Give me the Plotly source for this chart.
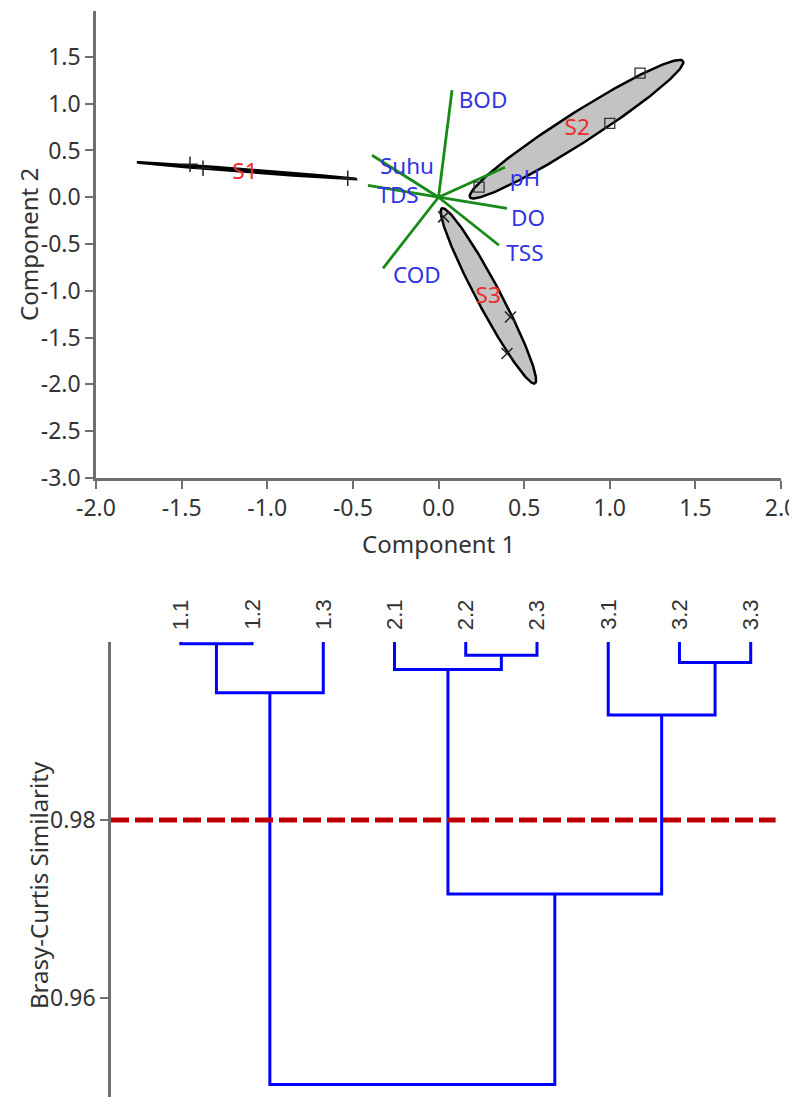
import numpy as np
import plotly.graph_objects as go

# ---------------- PCA biplot data ----------------
group_names = ["S1", "S2", "S3"]
s1_x = [-1.451, -1.375, -0.53]
s1_y = [0.353, 0.31, 0.203]
s2_x = [1.177, 1.0, 0.237]
s2_y = [1.326, 0.79, 0.107]
s3_x = [0.03, 0.42, 0.40]
s3_y = [-0.21, -1.28, -1.67]

# ellipses: both ends of the long axis + minor/major ratio
ell_tip1_x = [-1.761, 0.184, 0.02]
ell_tip1_y = [0.374, 0.0, -0.118]
ell_tip2_x = [-0.476, 1.428, 0.563]
ell_tip2_y = [0.193, 1.455, -1.99]
ell_ratio = [0.012, 0.12, 0.12]

group_label_x = [-1.13, 0.81, 0.29]
group_label_y = [0.257, 0.72, -1.07]

var_names = ["BOD", "Suhu", "TDS", "pH", "DO", "TSS", "COD"]
load_x = [0.079, -0.388, -0.412, 0.388, 0.40, 0.353, -0.324]
load_y = [1.144, 0.449, 0.128, 0.321, -0.118, -0.513, -0.759]
var_label_x = [0.26, -0.184, -0.236, 0.505, 0.523, 0.505, -0.126]
var_label_y = [1.016, 0.31, 0.0, 0.18, -0.246, -0.62, -0.856]

x1_ticks = [-2.0, -1.5, -1.0, -0.5, 0.0, 0.5, 1.0, 1.5, 2.0]
x1_ticktext = ["-2.0", "-1.5", "-1.0", "-0.5", "0.0", "0.5", "1.0", "1.5", "2.0"]
y1_ticks = [-3.0, -2.5, -2.0, -1.5, -1.0, -0.5, 0.0, 0.5, 1.0, 1.5]
y1_ticktext = ["-3.0", "-2.5", "-2.0", "-1.5", "-1.0", "-0.5", "0.0", "0.5", "1.0", "1.5"]

# ---------------- Dendrogram data ----------------
leaf_labels = ["1.1", "1.2", "1.3", "2.1", "2.2", "2.3", "3.1", "3.2", "3.3"]
merge_a = [0, 4, 7, 3, 9, 6, 12, 13]
merge_b = [1, 5, 8, 10, 2, 11, 14, 15]
merge_sim = [0.9998, 0.9985, 0.9977, 0.9969, 0.9943, 0.9918, 0.9717, 0.9503]
cut_level = 0.98
y2_ticks = [0.96, 0.98]
y2_ticktext = ["0.96", "0.98"]

# ---------------- layout geometry ----------------
W, H = 797, 1097
OFF = 8  # page body margin
FONT = "Noto Sans"
x1_range = [-2.0, 2.0]
y1_range = [-3.0, 1.99]
x1_dom_px = [96, 781]
y1_dom_px = [11, 478]
x2_range = [0.02, 9.65]
y2_range = [0.9489, 1.0]
x2_dom_px = [111, 797]
y2_dom_px = [642, 1097]


def fx(px):
    return (px - OFF) / W


def fy(py):
    return 1 - (py - OFF) / H


sx = (x1_dom_px[1] - x1_dom_px[0]) / (x1_range[1] - x1_range[0])
sy = (y1_dom_px[1] - y1_dom_px[0]) / (y1_range[1] - y1_range[0])


def ellipse(xa, ya, xb, yb, ratio, n=200):
    p1 = np.array([xa * sx, ya * sy])
    p2 = np.array([xb * sx, yb * sy])
    c = (p1 + p2) / 2
    u = (p2 - p1) / 2
    v = np.array([-u[1], u[0]]) * ratio
    t = np.linspace(0, 2 * np.pi, n)
    pts = c[:, None] + np.outer(u, np.cos(t)) + np.outer(v, np.sin(t))
    return pts[0] / sx, pts[1] / sy


fig = go.Figure()

# ellipses
for i in range(3):
    ex, ey = ellipse(ell_tip1_x[i], ell_tip1_y[i], ell_tip2_x[i], ell_tip2_y[i], ell_ratio[i])
    fig.add_trace(go.Scatter(x=ex, y=ey, mode="lines", fill="toself",
                             fillcolor="#c3c3c3", line=dict(color="black", width=2.5),
                             hoverinfo="skip", xaxis="x", yaxis="y"))

# loading vectors
vx, vy = [], []
for lx, ly in zip(load_x, load_y):
    vx += [0, lx, None]
    vy += [0, ly, None]
fig.add_trace(go.Scatter(x=vx, y=vy, mode="lines", line=dict(color="#178a17", width=2.8),
                         xaxis="x", yaxis="y"))

# points
fig.add_trace(go.Scatter(x=s1_x, y=s1_y, mode="markers",
                         marker=dict(symbol="cross-thin", size=11, line=dict(color="#222", width=1.5)),
                         xaxis="x", yaxis="y"))
fig.add_trace(go.Scatter(x=s2_x, y=s2_y, mode="markers",
                         marker=dict(symbol="square-open", size=10, color="#333", line=dict(color="#333", width=1.3)),
                         xaxis="x", yaxis="y"))
fig.add_trace(go.Scatter(x=s3_x, y=s3_y, mode="markers",
                         marker=dict(symbol="x-thin", size=11, line=dict(color="#222", width=1.5)),
                         xaxis="x", yaxis="y"))

# labels
fig.add_trace(go.Scatter(x=var_label_x, y=var_label_y, mode="text", text=var_names,
                         textposition="middle center",
                         textfont=dict(family=FONT, size=22.5, color="#3232e6"),
                         xaxis="x", yaxis="y"))
fig.add_trace(go.Scatter(x=group_label_x, y=group_label_y, mode="text", text=group_names,
                         textposition="middle center",
                         textfont=dict(family=FONT, size=22.5, color="#ee2a2a"),
                         xaxis="x", yaxis="y"))

# ---------------- dendrogram ----------------
pos = [float(i + 1) for i in range(len(leaf_labels))]
hgt = [1.0] * len(leaf_labels)
dx, dy = [], []
for a, b, s in zip(merge_a, merge_b, merge_sim):
    dx += [pos[a], pos[a], pos[b], pos[b], None]
    dy += [hgt[a], s, s, hgt[b], None]
    pos.append((pos[a] + pos[b]) / 2)
    hgt.append(s)
fig.add_trace(go.Scatter(x=dx, y=dy, mode="lines", line=dict(color="#0000ff", width=3),
                         xaxis="x2", yaxis="y2"))
fig.add_trace(go.Scatter(x=[x2_range[0], 9.35], y=[cut_level, cut_level], mode="lines",
                         line=dict(color="#c00000", width=5, dash="18px,6px"),
                         xaxis="x2", yaxis="y2"))

annotations = []
for i, lab in enumerate(leaf_labels):
    annotations.append(dict(x=i + 1, y=1.0, xref="x2", yref="y2", text=lab, showarrow=False,
                            textangle=-90, xanchor="center", yanchor="bottom", yshift=10,
                            font=dict(family="Liberation Sans", size=22, color="#333")))

annotations.append(dict(x=fx(438), y=fy(543), xref="paper", yref="paper", text="Component 1",
                        showarrow=False, xanchor="center", yanchor="middle",
                        font=dict(family=FONT, size=24, color="#333")))
annotations.append(dict(x=fx(28), y=fy(245), xref="paper", yref="paper", text="Component 2",
                        showarrow=False, textangle=-90, xanchor="center", yanchor="middle",
                        font=dict(family=FONT, size=24, color="#333")))
annotations.append(dict(x=fx(38), y=fy(885), xref="paper", yref="paper", text="Brasy-Curtis Similarity",
                        showarrow=False, textangle=-90, xanchor="center", yanchor="middle",
                        font=dict(family=FONT, size=24, color="#333")))

axis_common = dict(showgrid=False, zeroline=False, showline=True, linecolor="#707070", linewidth=2.5,
                   ticks="outside", tickcolor="#707070", tickwidth=2, ticklen=8, automargin=False,
                   ticklabeloverflow="allow",
                   tickfont=dict(family=FONT, size=23, color="#333"))

fig.update_layout(
    template="none",
    width=W, height=H, margin=dict(l=0, r=0, t=0, b=0, pad=0), autosize=False,
    paper_bgcolor="white", plot_bgcolor="white", showlegend=False,
    annotations=annotations,
    xaxis=dict(domain=[fx(x1_dom_px[0]), fx(x1_dom_px[1])], range=x1_range, anchor="y",
               tickmode="array", tickvals=x1_ticks, ticktext=x1_ticktext, **axis_common),
    yaxis=dict(domain=[fy(y1_dom_px[1]), fy(y1_dom_px[0])], range=y1_range, anchor="x",
               tickmode="array", tickvals=y1_ticks, ticktext=y1_ticktext, **axis_common),
    xaxis2=dict(domain=[fx(x2_dom_px[0]), 1.0], range=[x2_range[0], x2_range[1] + 8 / 71.24],
                anchor="y2", visible=False, automargin=False),
    yaxis2=dict(domain=[fy(y2_dom_px[1]), fy(y2_dom_px[0])], range=y2_range, anchor="x2",
                tickmode="array", tickvals=y2_ticks, ticktext=y2_ticktext, **axis_common),
)

fig.write_html("out.html")
